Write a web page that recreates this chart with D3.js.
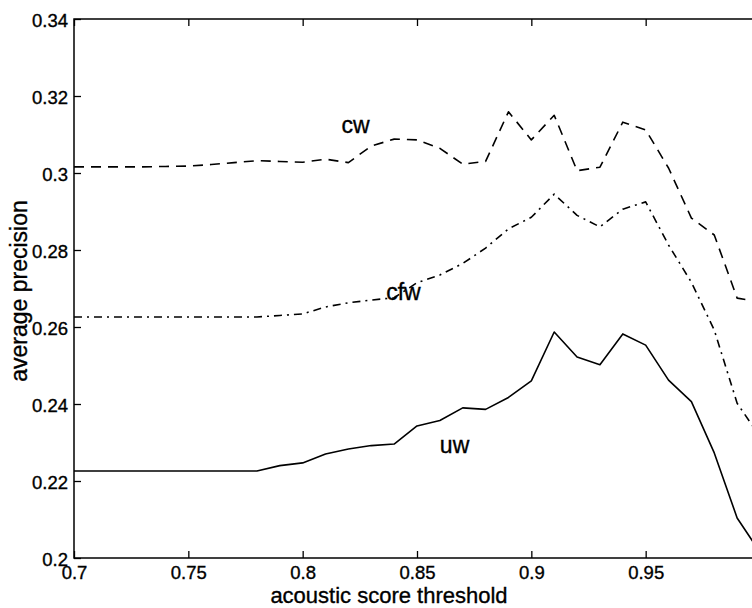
<!DOCTYPE html>
<html>
<head>
<meta charset="utf-8">
<script src="https://cdn.jsdelivr.net/npm/d3@7"></script>
<style>
  body { margin: 0; background: #fff; }
  svg { display: block; font-family: "Liberation Sans", Arial, Helvetica, sans-serif; }
</style>
</head>
<body>
<svg width="752" height="608"></svg>
<script>
// пороги акустической оценки (шаг 0.01)
const thresholds = [0.70, 0.71, 0.72, 0.73, 0.74, 0.75, 0.76, 0.77, 0.78, 0.79,
                    0.80, 0.81, 0.82, 0.83, 0.84, 0.85, 0.86, 0.87, 0.88, 0.89,
                    0.90, 0.91, 0.92, 0.93, 0.94, 0.95, 0.96, 0.97, 0.98, 0.99, 1.00];

const cw  = [0.3016, 0.3016, 0.3016, 0.3016, 0.3017, 0.3018, 0.3022, 0.3027, 0.3032, 0.3030,
             0.3028, 0.3036, 0.3027, 0.3070, 0.3088, 0.3086, 0.3064, 0.3023, 0.3030, 0.3159,
             0.3086, 0.3150, 0.3006, 0.3015, 0.3132, 0.3112, 0.3013, 0.2883, 0.2839, 0.2675, 0.2665];

const cfw = [0.2626, 0.2626, 0.2626, 0.2626, 0.2626, 0.2626, 0.2626, 0.2626, 0.2626, 0.2630,
             0.2634, 0.2652, 0.2663, 0.2670, 0.2676, 0.2715, 0.2735, 0.2765, 0.2805, 0.2855,
             0.2885, 0.2945, 0.2890, 0.2860, 0.2906, 0.2925, 0.2813, 0.2716, 0.2592, 0.2402, 0.2315];

const uw  = [0.2226, 0.2226, 0.2226, 0.2226, 0.2226, 0.2226, 0.2226, 0.2226, 0.2226, 0.2240,
             0.2247, 0.2270, 0.2283, 0.2292, 0.2296, 0.2343, 0.2357, 0.2390, 0.2386, 0.2417,
             0.2460, 0.2587, 0.2522, 0.2502, 0.2582, 0.2553, 0.2462, 0.2406, 0.2273, 0.2104, 0.2015];

// метка "1" у правого края обрезана в оригинале, поэтому пустая
const xTicks = [0.7, 0.75, 0.8, 0.85, 0.9, 0.95, 1];
const xTickLabels = ["0.7", "0.75", "0.8", "0.85", "0.9", "0.95", ""];
const yTicks = [0.2, 0.22, 0.24, 0.26, 0.28, 0.3, 0.32, 0.34];
const yTickLabels = ["0.2", "0.22", "0.24", "0.26", "0.28", "0.3", "0.32", "0.34"];

const svg = d3.select("svg");
const mLeft = 74, mRight = 760, mTop = 19, mBottom = 558;

const x = d3.scaleLinear().domain([0.7, 1.0]).range([mLeft, mRight]);
const y = d3.scaleLinear().domain([0.2, 0.34]).range([mBottom, mTop]);

svg.append("rect").attr("width", 752).attr("height", 608).attr("fill", "#fff");

// оси с тиками внутрь
const fmtX = (d, i) => xTickLabels[i];
const fmtY = (d, i) => yTickLabels[i];

const gx = svg.append("g").attr("transform", `translate(0,${mBottom})`)
    .call(d3.axisBottom(x).tickValues(xTicks).tickFormat(fmtX).tickSizeInner(-7).tickSizeOuter(0).tickPadding(8));
const gxTop = svg.append("g").attr("transform", `translate(0,${mTop})`)
    .call(d3.axisTop(x).tickValues(xTicks).tickFormat("").tickSizeInner(-7).tickSizeOuter(0));
const gy = svg.append("g").attr("transform", `translate(${mLeft},0)`)
    .call(d3.axisLeft(y).tickValues(yTicks).tickFormat(fmtY).tickSizeInner(-7).tickSizeOuter(0).tickPadding(6));
const gyRight = svg.append("g").attr("transform", `translate(${mRight},0)`)
    .call(d3.axisRight(y).tickValues(yTicks).tickFormat("").tickSizeInner(-7).tickSizeOuter(0));

[gx, gxTop, gy, gyRight].forEach(g => {
    g.select(".domain").remove();
    g.selectAll("line").attr("stroke", "#000").attr("stroke-width", 1.3);
    g.selectAll("text").attr("fill", "#000").attr("font-size", 18.5)
        .attr("stroke", "#000").attr("stroke-width", 0.35)
        .attr("font-family", "'Liberation Sans', Arial, sans-serif");
});
gy.selectAll("text").attr("dy", "0.42em");

// рамка
svg.append("rect")
    .attr("x", mLeft).attr("y", mTop)
    .attr("width", mRight - mLeft).attr("height", mBottom - mTop)
    .attr("fill", "none").attr("stroke", "#000").attr("stroke-width", 1.5);

// кривые
const line = d3.line()
    .x((d, i) => x(thresholds[i]))
    .y(d => y(d));

const series = [
    {name: "cw",  values: cw,  dash: "10,7"},
    {name: "cfw", values: cfw, dash: "8,5,2,5"},
    {name: "uw",  values: uw,  dash: null}
];

series.forEach(s => {
    svg.append("path")
        .attr("d", line(s.values))
        .attr("fill", "none")
        .attr("stroke", "#000")
        .attr("stroke-width", 1.6)
        .attr("stroke-linejoin", "round")
        .attr("stroke-dasharray", s.dash);
});

// подписи кривых
const labels = [
    {text: "cw",  tx: 0.817, ty: 0.3105},
    {text: "cfw", tx: 0.8365, ty: 0.2669},
    {text: "uw",  tx: 0.860, ty: 0.2273}
];
svg.selectAll(".lbl").data(labels).enter().append("text")
    .attr("class", "lbl")
    .attr("x", d => x(d.tx))
    .attr("y", d => y(d.ty))
    .attr("font-size", 23)
    .attr("fill", "#000")
    .attr("stroke", "#000").attr("stroke-width", 0.35)
    .text(d => d.text);

// подписи осей
svg.append("text")
    .attr("x", 389).attr("y", 603)
    .attr("text-anchor", "middle")
    .attr("font-size", 22)
    .attr("stroke", "#000").attr("stroke-width", 0.35)
    .text("acoustic score threshold");

svg.append("text")
    .attr("transform", "translate(27,291) rotate(-90)")
    .attr("text-anchor", "middle")
    .attr("font-size", 23)
    .attr("stroke", "#000").attr("stroke-width", 0.35)
    .text("average precision");
</script>
</body>
</html>
